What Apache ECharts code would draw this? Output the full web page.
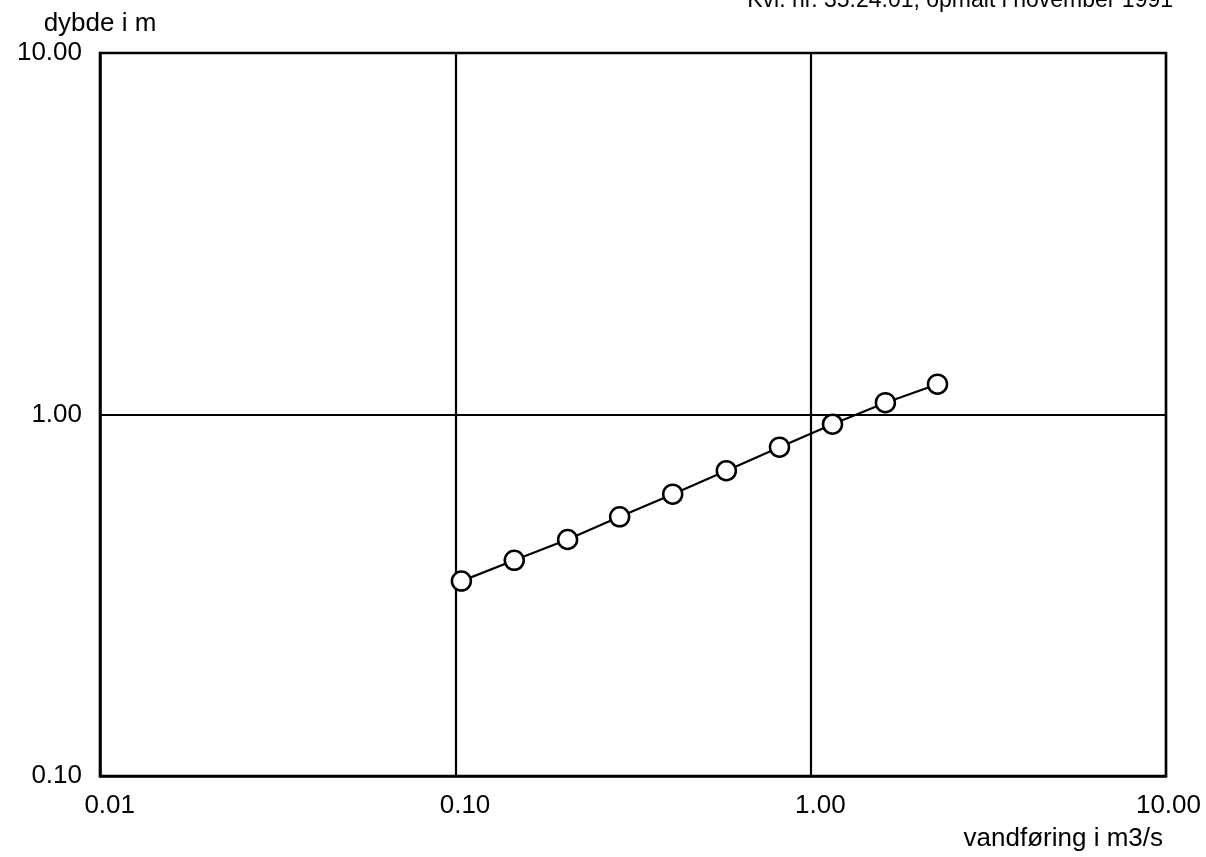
<!DOCTYPE html>
<html>
<head>
<meta charset="utf-8">
<title>Vandføringskurve</title>
<script src="https://cdn.jsdelivr.net/npm/echarts@6/dist/echarts.min.js"></script>
<style>
  html, body { margin: 0; padding: 0; background: #fff; }
  #chart { width: 1206px; height: 857px; }
</style>
</head>
<body>
<div id="chart"></div>
<script>
// Rating curve: discharge (m3/s) against water depth (m), log-log
const discharge = [0.104, 0.1465, 0.207, 0.290, 0.409, 0.579, 0.817, 1.152, 1.623, 2.275];
const depth     = [0.346, 0.395, 0.451, 0.521, 0.602, 0.699, 0.812, 0.940, 1.078, 1.213];

const xTicks = [0.01, 0.1, 1, 10];
const yTicks = [0.1, 1, 10];

const titleText = 'Kvl. nr. 35.24.01, opmålt i november 1991';
const yName = 'dybde i m';
const xName = 'vandføring i m3/s';

const FONT = '"Liberation Sans", Arial, Helvetica, sans-serif';
const points = discharge.map((q, i) => [q, depth[i]]);

const chart = echarts.init(document.getElementById('chart'), null, { renderer: 'canvas' });

chart.setOption({
  backgroundColor: '#ffffff',
  animation: false,
  grid: {
    left: 100, right: 40, top: 53, bottom: 81,
    show: true,
    borderColor: '#000',
    borderWidth: 2.5,
    backgroundColor: 'transparent'
  },
  xAxis: {
    type: 'log',
    logBase: 10,
    min: xTicks[0],
    max: xTicks[xTicks.length - 1],
    axisLine: { show: true, lineStyle: { color: '#000', width: 2.5 } },
    axisTick: { show: false },
    splitLine: { show: true, lineStyle: { color: '#000', width: 2.2 } },
    axisLabel: {
      color: '#000',
      fontFamily: FONT,
      fontSize: 26,
      margin: 17,
      align: 'right',
      padding: [0, -35, 0, 0],
      showMinLabel: true,
      showMaxLabel: true,
      formatter: v => Number(v).toFixed(2)
    }
  },
  yAxis: {
    type: 'log',
    logBase: 10,
    min: yTicks[0],
    max: yTicks[yTicks.length - 1],
    name: yName,
    nameLocation: 'end',
    nameGap: 16,
    nameTextStyle: { color: '#000', fontFamily: FONT, fontSize: 26, align: 'center' },
    axisLine: { show: true, lineStyle: { color: '#000', width: 2.5 } },
    axisTick: { show: false },
    splitLine: { show: true, lineStyle: { color: '#000', width: 2.2 } },
    axisLabel: {
      color: '#000',
      fontFamily: FONT,
      fontSize: 26,
      margin: 18,
      showMinLabel: true,
      showMaxLabel: true,
      formatter: v => Number(v).toFixed(2)
    }
  },
  graphic: [
    {
      type: 'text',
      style: {
        x: 1173, y: 12,
        text: titleText,
        fill: '#000',
        font: '23px ' + FONT,
        align: 'right',
        verticalAlign: 'bottom'
      }
    },
    {
      type: 'text',
      style: {
        x: 1163, y: 839,
        text: xName,
        fill: '#000',
        font: '26px ' + FONT,
        align: 'right',
        verticalAlign: 'middle'
      }
    }
  ],
  series: [
    {
      type: 'line',
      data: points,
      symbol: 'circle',
      symbolSize: 19,
      showAllSymbol: true,
      lineStyle: { color: '#000', width: 2.2 },
      itemStyle: { color: '#fff', borderColor: '#000', borderWidth: 2.5 },
      z: 5
    }
  ]
});
</script>
</body>
</html>
